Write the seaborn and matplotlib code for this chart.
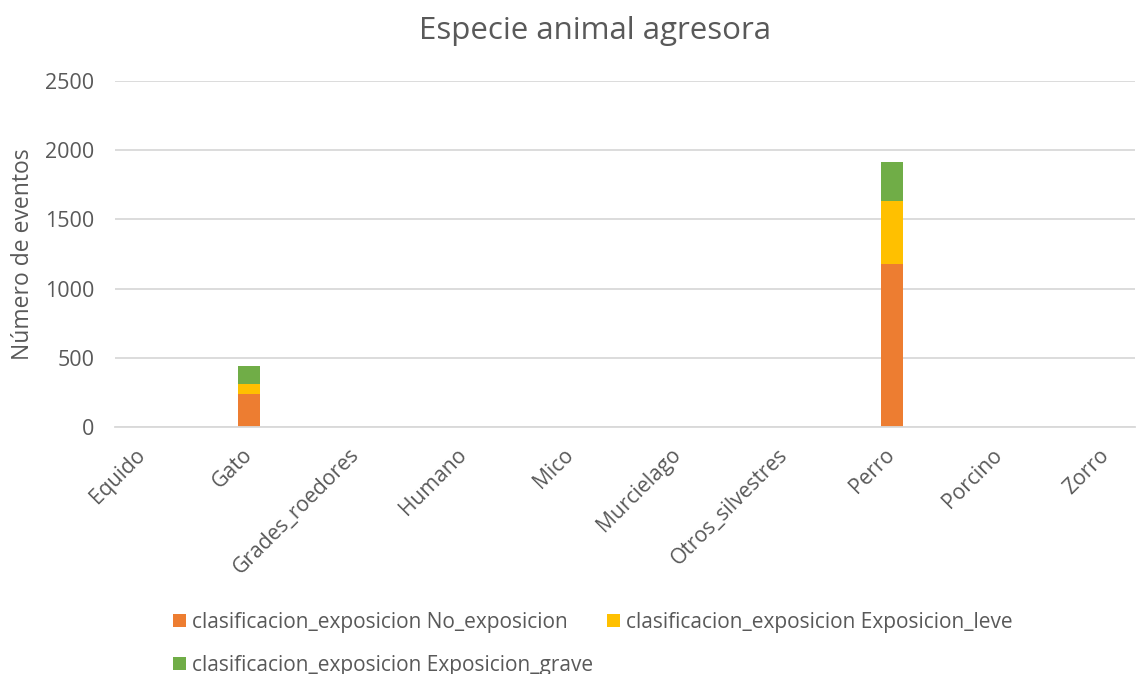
import matplotlib
matplotlib.use("Agg")
import matplotlib.pyplot as plt
import seaborn as sns
import numpy as np
import pandas as pd

categories = ["Equido", "Gato", "Grades_roedores", "Humano", "Mico", "Murcielago",
              "Otros_silvestres", "Perro", "Porcino", "Zorro"]
no_exposicion = [0, 238, 0, 0, 0, 0, 0, 1180, 0, 0]
exposicion_leve = [0, 72, 0, 0, 0, 0, 0, 456, 0, 0]
exposicion_grave = [0, 128, 0, 0, 0, 0, 0, 278, 0, 0]
series_names = ["clasificacion_exposicion No_exposicion",
                "clasificacion_exposicion Exposicion_leve",
                "clasificacion_exposicion Exposicion_grave"]
colors = ["#ED7D31", "#FFC000", "#70AD47"]

sns.set_theme(style="white")
plt.rcParams["font.family"] = ["Open Sans", "DejaVu Sans"]
text_color = "#595959"

W, H = 1136, 674
fig = plt.figure(figsize=(W / 100, H / 100), dpi=100)
# plot area: x 115..1135 px, y 81..427 px
ax = fig.add_axes([115 / W, 1 - 427 / H, 1020 / W, 346 / H])

series = [no_exposicion, exposicion_leve, exposicion_grave]
bottom = np.zeros(len(categories))
for name, vals, c in zip(series_names, series, colors):
    df = pd.DataFrame({"cat": categories, "val": vals})
    sns.barplot(data=df, x="cat", y="val", color=c, bottom=bottom, width=0.205,
                ax=ax, label=name, saturation=1, linewidth=0)
    bottom = bottom + np.array(vals)

if ax.get_legend() is not None:
    ax.get_legend().remove()

ax.set_ylim(0, 2500)
ax.set_yticks([0, 500, 1000, 1500, 2000, 2500])
ax.set_xlim(-0.252, 9.27)
ax.yaxis.grid(True, color="#D9D9D9", linewidth=1.3)
ax.set_axisbelow(True)
for s in ["top", "right", "left"]:
    ax.spines[s].set_visible(False)
ax.spines["bottom"].set_color("#D9D9D9")
ax.spines["bottom"].set_linewidth(1.3)

ax.tick_params(axis="y", colors=text_color, labelsize=15.5, length=0, pad=15)
ax.tick_params(axis="x", colors=text_color, labelsize=15.2, length=0, pad=18)
plt.setp(ax.get_xticklabels(), rotation=45, ha="right", va="center",
         rotation_mode="anchor")
ax.set_xlabel("")
ax.set_ylabel("Número de eventos", color=text_color, fontsize=16.5, labelpad=7)

fig.text(595 / W, 1 - 31 / H, "Especie animal agresora", ha="center", va="center",
         color=text_color, fontsize=22.5)

handles, labels = ax.get_legend_handles_labels()
order = [0, 2, 1]
fig.legend([handles[i] for i in order], [labels[i] for i in order],
           loc="upper left", bbox_to_anchor=(173 / W, 1 - 612 / H),
           ncol=2, frameon=False, fontsize=15, labelcolor=text_color,
           handlelength=0.6, handleheight=0.6, handletextpad=0.3,
           columnspacing=0.7, borderaxespad=0, borderpad=0, labelspacing=1.05)

fig.savefig("out.png", dpi=100)
